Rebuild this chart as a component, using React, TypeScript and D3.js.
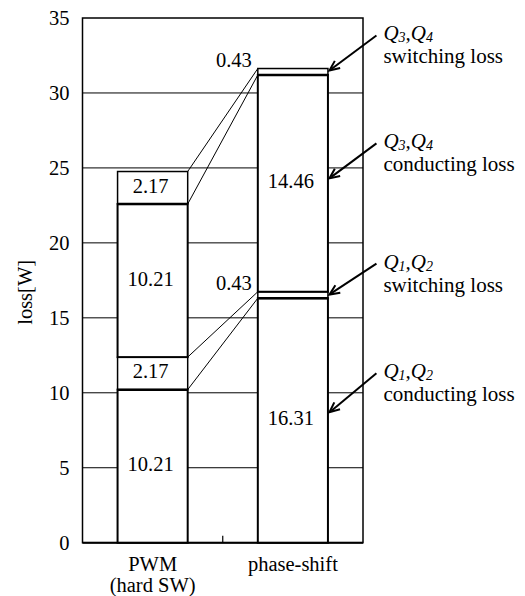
import React from "react";
import * as d3 from "d3";

const categories = ["PWM", "phase-shift"];
const categorySubLabels = ["(hard SW)", ""];
const seriesNames = ["Q1Q2 conducting", "Q1Q2 switching", "Q3Q4 conducting", "Q3Q4 switching"];
const pwmValues = [10.21, 2.17, 10.21, 2.17];
const phaseShiftValues = [16.31, 0.43, 14.46, 0.43];
const yTicks = [0, 5, 10, 15, 20, 25, 30, 35];
const gridTicks = [5, 10, 15, 20, 25, 30];
const annoIdx = [["3", "4"], ["3", "4"], ["1", "2"], ["1", "2"]];
const annoText = ["switching loss", "conducting loss", "switching loss", "conducting loss"];
const annoTarget = [31.5, 24.3, 16.55, 8.7];
const annoDy = [35, 35, 31, 39];

const W = 525, H = 596;
const left = 82.5, right = 363, top = 18, bottom = 542.7;
const FONT = "'Times New Roman', Times, 'Liberation Serif', serif";

export default function App() {
  const x = d3.scaleBand<string>().domain(categories).range([left, right]).paddingInner(0.5).paddingOuter(0.25);
  const y = d3.scaleLinear().domain([0, 35]).range([bottom, top]);
  const bw = x.bandwidth();
  const data = [pwmValues, phaseShiftValues];
  const stacks = data.map((vals) => {
    let acc = 0;
    return vals.map((v) => {
      const s = acc;
      acc += v;
      return { y0: s, y1: acc, v };
    });
  });
  const x1 = x(categories[0])! + bw;
  const x2 = x(categories[1])!;
  const midTick = (x1 + x2) / 2;
  const bx2r = x2 + bw;
  const ts = { fontFamily: FONT };

  return (
    <svg width={W} height={H} style={{ position: "absolute", left: 0, top: 0, background: "#fff", fontFamily: FONT }}>
      {gridTicks.map((t) => (
        <line key={t} x1={left} x2={right} y1={y(t)} y2={y(t)} stroke="#000" strokeWidth={1} />
      ))}
      <rect x={left} y={top} width={right - left} height={bottom - top} fill="none" stroke="#000" strokeWidth={1.5} />
      <line x1={left} x2={right} y1={bottom} y2={bottom} stroke="#000" strokeWidth={2} />
      <line x1={midTick} x2={midTick} y1={bottom} y2={bottom - 7} stroke="#000" strokeWidth={1.2} />
      {yTicks.map((t) => (
        <text key={t} style={ts} x={left - 13} y={y(t)} textAnchor="end" dominantBaseline="central" fontSize={20.5}>{t}</text>
      ))}
      <text style={ts} transform={`translate(25,${(top + bottom) / 2 + 12}) rotate(-90)`} textAnchor="middle" dominantBaseline="central" fontSize={20.5}>loss[W]</text>
      {categories.map((c, i) => (
        <g key={c}>
          <text style={ts} x={x(c)! + bw / 2} y={571} textAnchor="middle" fontSize={20.5}>{c}</text>
          {categorySubLabels[i] && (
            <text style={ts} x={x(c)! + bw / 2} y={592} textAnchor="middle" fontSize={20.5}>{categorySubLabels[i]}</text>
          )}
        </g>
      ))}
      {stacks[0].map((s, i) => (
        <line key={"c" + i} x1={x1} y1={y(s.y1)} x2={x2} y2={y(stacks[1][i].y1)} stroke="#000" strokeWidth={1} />
      ))}
      {stacks.map((st, bi) =>
        st.map((s, si) => (
          <rect key={bi + "-" + si} x={x(categories[bi])} y={y(s.y1)} width={bw} height={y(s.y0) - y(s.y1)}
            fill="#fff" stroke="#000" strokeWidth={si % 2 === 0 ? 2 : 1.5} />
        ))
      )}
      {stacks.map((st, bi) =>
        st.filter((_, si) => si % 2 === 0).map((s, k) => (
          <line key={"t" + bi + k} x1={x(categories[bi])} x2={x(categories[bi])! + bw} y1={y(s.y1)} y2={y(s.y1)} stroke="#000" strokeWidth={2.5} />
        ))
      )}
      {stacks.map((st, bi) =>
        st.map((s, si) => {
          const inside = s.v > 1;
          if (inside) {
            return (
              <text key={"l" + bi + si} style={ts} x={x(categories[bi])! + bw / 2 - 2} y={(y(s.y0) + y(s.y1)) / 2 - 2}
                textAnchor="middle" dominantBaseline="central" fontSize={20.5}>{s.v.toFixed(2)}</text>
            );
          }
          return (
            <text key={"l" + bi + si} style={ts} x={x(categories[bi])! - 6} y={y(s.y1) - 9}
              textAnchor="end" dominantBaseline="central" fontSize={20.5}>{s.v.toFixed(2)}</text>
          );
        })
      )}
      {annoTarget.map((t, i) => {
        const ex = bx2r + 1.5, ey = y(t);
        const sx = ex + 47, sy = ey - annoDy[i];
        const ang = Math.atan2(sy - ey, sx - ex);
        const L = 11, spread = 0.42;
        const p1 = [ex + L * Math.cos(ang + spread), ey + L * Math.sin(ang + spread)];
        const p2 = [ex + L * Math.cos(ang - spread), ey + L * Math.sin(ang - spread)];
        return (
          <g key={"a" + i}>
            <line x1={sx} y1={sy} x2={ex + 2} y2={ey - 1.5} stroke="#000" strokeWidth={2} />
            <polyline points={`${p1[0]},${p1[1]} ${ex},${ey} ${p2[0]},${p2[1]}`} fill="none" stroke="#000" strokeWidth={2} />
            <text style={ts} x={sx + 7} y={sy + 5} fontSize={21} fontStyle="italic">
              Q<tspan fontSize={14} dy={2}>{annoIdx[i][0]}</tspan><tspan dy={-2}>,Q</tspan><tspan fontSize={14} dy={2}>{annoIdx[i][1]}</tspan>
            </text>
            <text style={ts} x={sx + 7} y={sy + 28} fontSize={21}>{annoText[i]}</text>
          </g>
        );
      })}
    </svg>
  );
}
